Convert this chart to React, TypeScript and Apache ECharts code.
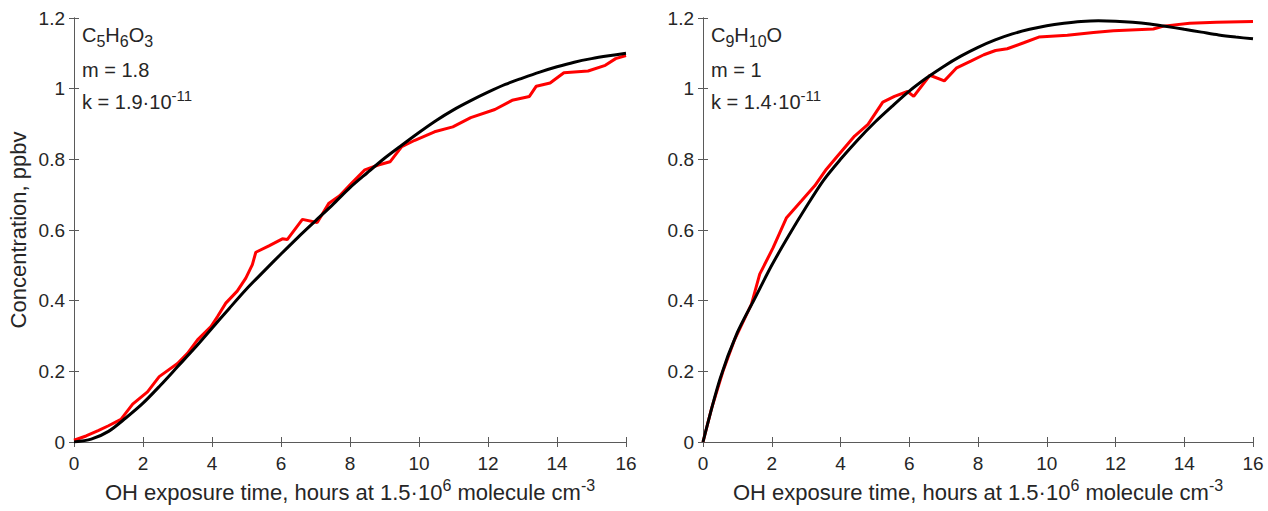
import React, { useEffect, useRef } from "react";
import * as echarts from "echarts";

const FONT = '"Liberation Sans", Arial, Helvetica, sans-serif';
const TEXT = "#262626";
const AXIS = "#5a5a5a";

// ---------- left panel: C5H6O3 ----------
const leftMeasX = [0, 0.35, 0.7, 1.0, 1.36, 1.7, 2.13, 2.47, 3.0, 3.29, 3.58, 3.97, 4.16, 4.4, 4.73, 4.98, 5.17, 5.27, 5.65, 6.04, 6.18, 6.62, 7.05, 7.39, 7.7, 8.05, 8.43, 8.82, 9.16, 9.5, 9.88, 10.45, 10.98, 11.5, 12.2, 12.7, 13.2, 13.4, 13.8, 14.2, 14.9, 15.4, 15.7, 16.0];
const leftMeasY = [0.005, 0.017, 0.032, 0.046, 0.064, 0.107, 0.142, 0.185, 0.222, 0.251, 0.289, 0.327, 0.355, 0.393, 0.427, 0.464, 0.502, 0.537, 0.555, 0.575, 0.573, 0.63, 0.621, 0.676, 0.697, 0.733, 0.77, 0.784, 0.793, 0.836, 0.854, 0.878, 0.892, 0.918, 0.941, 0.967, 0.978, 1.007, 1.016, 1.045, 1.05, 1.066, 1.085, 1.094];
const leftFitX = [0, 0.5, 1, 1.5, 2, 2.5, 3, 3.5, 4, 4.5, 5, 5.5, 6, 6.5, 7, 7.5, 8, 8.5, 9, 9.5, 10, 10.5, 11, 11.5, 12, 12.5, 13, 13.5, 14, 14.5, 15, 15.5, 16];
const leftFitY = [0, 0.008, 0.03, 0.068, 0.11, 0.16, 0.213, 0.266, 0.322, 0.378, 0.433, 0.483, 0.532, 0.58, 0.626, 0.672, 0.72, 0.762, 0.803, 0.84, 0.876, 0.91, 0.94, 0.966, 0.99, 1.012, 1.03, 1.047, 1.062, 1.075, 1.085, 1.093, 1.1];

// ---------- right panel: C9H10O ----------
const rightMeasX = [0, 0.25, 0.58, 0.92, 1.41, 1.65, 2.04, 2.43, 2.86, 3.25, 3.59, 3.92, 4.41, 4.8, 5.23, 5.57, 5.95, 6.13, 6.6, 7.02, 7.38, 7.79, 8.17, 8.51, 8.85, 9.33, 9.77, 10.6, 11.36, 11.94, 13.1, 13.4, 14.16, 14.94, 16.0];
const rightMeasY = [0, 0.095, 0.2, 0.29, 0.39, 0.475, 0.55, 0.635, 0.682, 0.725, 0.772, 0.81, 0.866, 0.899, 0.962, 0.978, 0.992, 0.978, 1.038, 1.022, 1.059, 1.078, 1.096, 1.108, 1.113, 1.13, 1.146, 1.151, 1.159, 1.164, 1.169, 1.177, 1.185, 1.188, 1.19];
const rightFitX = [0, 0.5, 1, 1.5, 2, 2.5, 3, 3.5, 4, 4.5, 5, 5.5, 6, 6.5, 7, 7.5, 8, 8.5, 9, 9.5, 10, 10.5, 11, 11.5, 12, 12.5, 13, 13.5, 14, 14.5, 15, 15.5, 16];
const rightFitY = [0, 0.18, 0.31, 0.405, 0.5, 0.585, 0.665, 0.74, 0.8, 0.855, 0.905, 0.95, 0.993, 1.03, 1.063, 1.092, 1.117, 1.138, 1.155, 1.168, 1.178, 1.185, 1.19, 1.192, 1.191, 1.188, 1.183, 1.176, 1.168, 1.16, 1.152, 1.146, 1.141];

// ---------- axes ----------
const xMin = 0, xMax = 16, xStep = 2;
const yMin = 0, yMax = 1.2, yStep = 0.2;
const yAxisTitle = "Concentration, ppbv";
const xTitleParts = ["OH exposure time, hours at 1.5·10", "6", " molecule cm", "-3"];

// ---------- annotations ----------
const leftFormula = [["C", "5"], ["H", "6"], ["O", "3"]];
const rightFormula = [["C", "9"], ["H", "10"], ["O", ""]];
const leftM = "m = 1.8";
const rightM = "m = 1";
const leftK = ["k = 1.9·10", "-11"];
const rightK = ["k = 1.4·10", "-11"];

const pair = (xs: number[], ys: number[]) => xs.map((x, i) => [x, ys[i]]);

export default function App() {
  const ref = useRef<HTMLDivElement>(null);

  useEffect(() => {
    if (!ref.current) return;
    const chart = echarts.init(ref.current, undefined, { renderer: "svg" });

    const grids = [
      { left: 74, top: 18, width: 552, height: 424 },
      { left: 703, top: 18, width: 550, height: 424 },
    ];

    const supRich = {
      n: { fontSize: 22, lineHeight: 26, padding: [3, 0, 0, 0], verticalAlign: "bottom", color: TEXT, fontFamily: FONT },
      p: { fontSize: 16, lineHeight: 16, verticalAlign: "top", color: TEXT, fontFamily: FONT },
    };

    const xName = `{n|${xTitleParts[0]}}{p|${xTitleParts[1]}}{n|${xTitleParts[2]}}{p|${xTitleParts[3]}}`;

    const xAxes: any[] = [];
    const yAxes: any[] = [];
    [0, 1].forEach((g) => {
      xAxes.push({
        type: "value", gridIndex: g, position: "bottom", min: xMin, max: xMax, interval: xStep,
        axisLine: { show: true, lineStyle: { color: AXIS, width: 1 } },
        axisTick: { show: true, inside: true, length: 5, lineStyle: { color: AXIS } },
        axisLabel: { show: true, color: TEXT, fontSize: 19, fontFamily: FONT, margin: 12 },
        splitLine: { show: false },
        name: xName, nameLocation: "middle", nameGap: 34,
        nameTextStyle: { rich: supRich, color: TEXT, fontSize: 22, fontFamily: FONT },
      });
      xAxes.push({
        type: "value", gridIndex: g, position: "top", min: xMin, max: xMax, interval: xStep,
        axisLine: { show: true, lineStyle: { color: AXIS, width: 1 } },
        axisTick: { show: true, inside: true, length: 5, lineStyle: { color: AXIS } },
        axisLabel: { show: false }, splitLine: { show: false },
      });
      yAxes.push({
        type: "value", gridIndex: g, position: "left", min: yMin, max: yMax, interval: yStep,
        axisLine: { show: true, lineStyle: { color: AXIS, width: 1 } },
        axisTick: { show: true, inside: true, length: 5, lineStyle: { color: AXIS } },
        axisLabel: { show: true, color: TEXT, fontSize: 19, fontFamily: FONT, margin: 9 },
        splitLine: { show: false },
        name: g === 0 ? yAxisTitle : "", nameLocation: "middle", nameGap: 45,
        nameTextStyle: { color: TEXT, fontSize: 22, fontFamily: FONT },
      });
      yAxes.push({
        type: "value", gridIndex: g, position: "right", min: yMin, max: yMax, interval: yStep,
        axisLine: { show: true, lineStyle: { color: AXIS, width: 1 } },
        axisTick: { show: true, inside: true, length: 5, lineStyle: { color: AXIS } },
        axisLabel: { show: false }, splitLine: { show: false },
      });
    });

    const mkLine = (data: number[][], xi: number, yi: number, color: string, smooth: boolean) => ({
      type: "line", xAxisIndex: xi, yAxisIndex: yi, data, showSymbol: false, symbol: "none",
      smooth: smooth ? 0.3 : false, lineStyle: { color, width: 3 }, itemStyle: { color }, clip: true,
    });

    const formulaText = (parts: string[][]) =>
      parts.map(([a, b]) => `{n|${a}}` + (b ? `{s|${b}}` : "")).join("");

    const subRich = {
      n: { fontSize: 20, lineHeight: 24, padding: [0, 0, 9, 0], verticalAlign: "top", fill: TEXT, fontFamily: FONT },
      s: { fontSize: 16, lineHeight: 16, verticalAlign: "bottom", fill: TEXT, fontFamily: FONT },
    };
    const kRich = {
      n: { fontSize: 20, lineHeight: 24, padding: [3, 0, 0, 0], verticalAlign: "bottom", fill: TEXT, fontFamily: FONT },
      p: { fontSize: 15, lineHeight: 15, verticalAlign: "top", fill: TEXT, fontFamily: FONT },
    };

    const annot = (x0: number, formula: string[][], m: string, k: string[]) => [
      { type: "text", x: x0, y: 25, style: { text: formulaText(formula), rich: subRich, fill: TEXT, font: `20px ${FONT}`, verticalAlign: "top" } },
      { type: "text", x: x0, y: 60, style: { text: m, fill: TEXT, font: `20px ${FONT}`, verticalAlign: "top" } },
      { type: "text", x: x0, y: 88, style: { text: `{n|${k[0]}}{p|${k[1]}}`, rich: kRich, fill: TEXT, font: `20px ${FONT}`, verticalAlign: "top" } },
    ];

    chart.setOption({
      animation: false,
      backgroundColor: "#ffffff",
      grid: grids,
      xAxis: xAxes,
      yAxis: yAxes,
      series: [
        mkLine(pair(leftMeasX, leftMeasY), 0, 0, "#ff0000", false),
        mkLine(pair(leftFitX, leftFitY), 0, 0, "#000000", true),
        mkLine(pair(rightMeasX, rightMeasY), 2, 2, "#ff0000", false),
        mkLine(pair(rightFitX, rightFitY), 2, 2, "#000000", true),
      ],
      graphic: [...annot(82, leftFormula, leftM, leftK), ...annot(711, rightFormula, rightM, rightK)],
    });

    return () => chart.dispose();
  }, []);

  return <div ref={ref} style={{ position: "fixed", left: 0, top: 0, width: 1268, height: 511 }} />;
}
